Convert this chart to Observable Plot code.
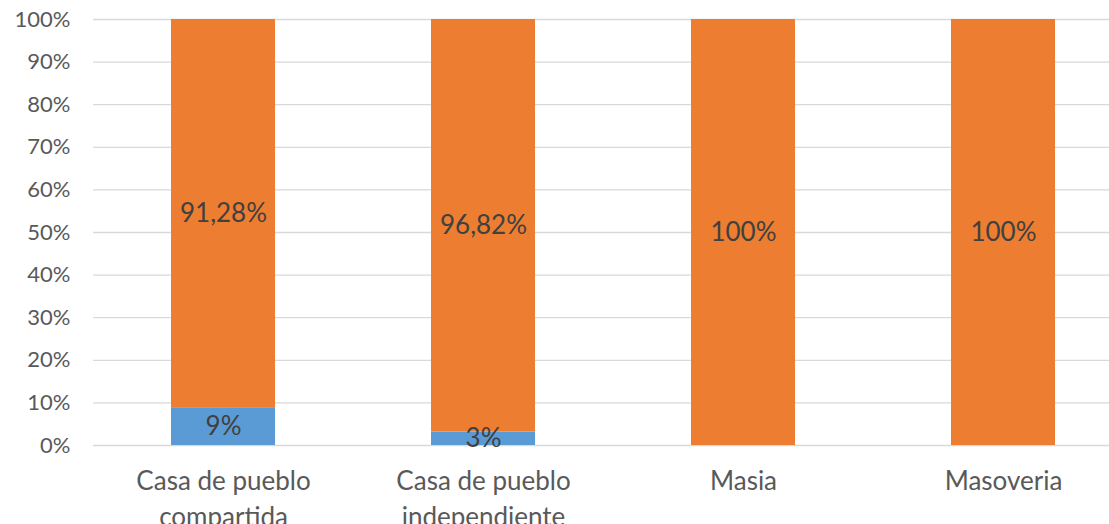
<!DOCTYPE html>
<html>
<head>
<meta charset="utf-8">
<script src="https://cdn.jsdelivr.net/npm/d3@7"></script>
<script src="https://cdn.jsdelivr.net/npm/@observablehq/plot@0.6"></script>
<style>
  html, body { margin: 0; padding: 0; background: #fff; }
  #chart svg { display: block; font-family: Lato, "Open Sans", sans-serif; }
</style>
</head>
<body>
<div id="chart"></div>
<script>
// Housing types (x categories) and their two-line axis labels
const categories = ["Casa de pueblo compartida", "Casa de pueblo independiente", "Masia", "Masoveria"];
const categoryLabels = ["Casa de pueblo\ncompartida", "Casa de pueblo\nindependiente", "Masia", "Masoveria"];

// Percentage shares per housing type (lower blue segment, upper orange segment)
const lowerShare = [8.72, 3.18, 0, 0];
const upperShare = [91.28, 96.82, 100, 100];

// Y axis ticks
const yTicks = [0, 10, 20, 30, 40, 50, 60, 70, 80, 90, 100];

const seriesOrder = ["lower", "upper"];
const rows = [];
categories.forEach((c, i) => {
  if (lowerShare[i] > 0) rows.push({cat: c, series: "lower", value: lowerShare[i]});
  if (upperShare[i] > 0) rows.push({cat: c, series: "upper", value: upperShare[i]});
});

const labelFor = d => d.series === "lower"
  ? Math.round(d.value) + "%"
  : (Number.isInteger(d.value) ? d.value + "%" : d.value.toFixed(2).replace(".", ",") + "%");

const chart = Plot.plot({
  width: 1109,
  height: 524,
  marginLeft: 93,
  marginRight: 0,
  marginTop: 19,
  marginBottom: 79,
  style: {fontFamily: "Lato, 'Open Sans', sans-serif", background: "#fff"},
  x: {domain: categories, range: [93, 1133], paddingInner: 0.6, paddingOuter: 0.3, label: null},
  y: {domain: [0, 100], label: null},
  color: {domain: seriesOrder, range: ["#5B9BD5", "#ED7D31"]},
  marks: [
    Plot.ruleY(yTicks, {stroke: "#d9d9d9", strokeWidth: 1.3}),
    Plot.barY(rows, {x: "cat", y: "value", fill: "series", z: "series", order: seriesOrder}),
    Plot.text(rows, Plot.stackY({
      x: "cat", y: "value", z: "series", order: seriesOrder,
      text: labelFor, fill: "#404040", fontSize: 26
    })),
    Plot.axisY({
      ticks: yTicks, tickSize: 0, tickPadding: 23, fontSize: 22,
      tickFormat: d => d + "%", color: "#595959", label: null
    }),
    Plot.axisX({
      tickSize: 0, tickPadding: 20, fontSize: 26, lineHeight: 1.35,
      tickFormat: d => categoryLabels[categories.indexOf(d)],
      color: "#595959", label: null
    })
  ]
});
document.getElementById("chart").appendChild(chart);
</script>
</body>
</html>
